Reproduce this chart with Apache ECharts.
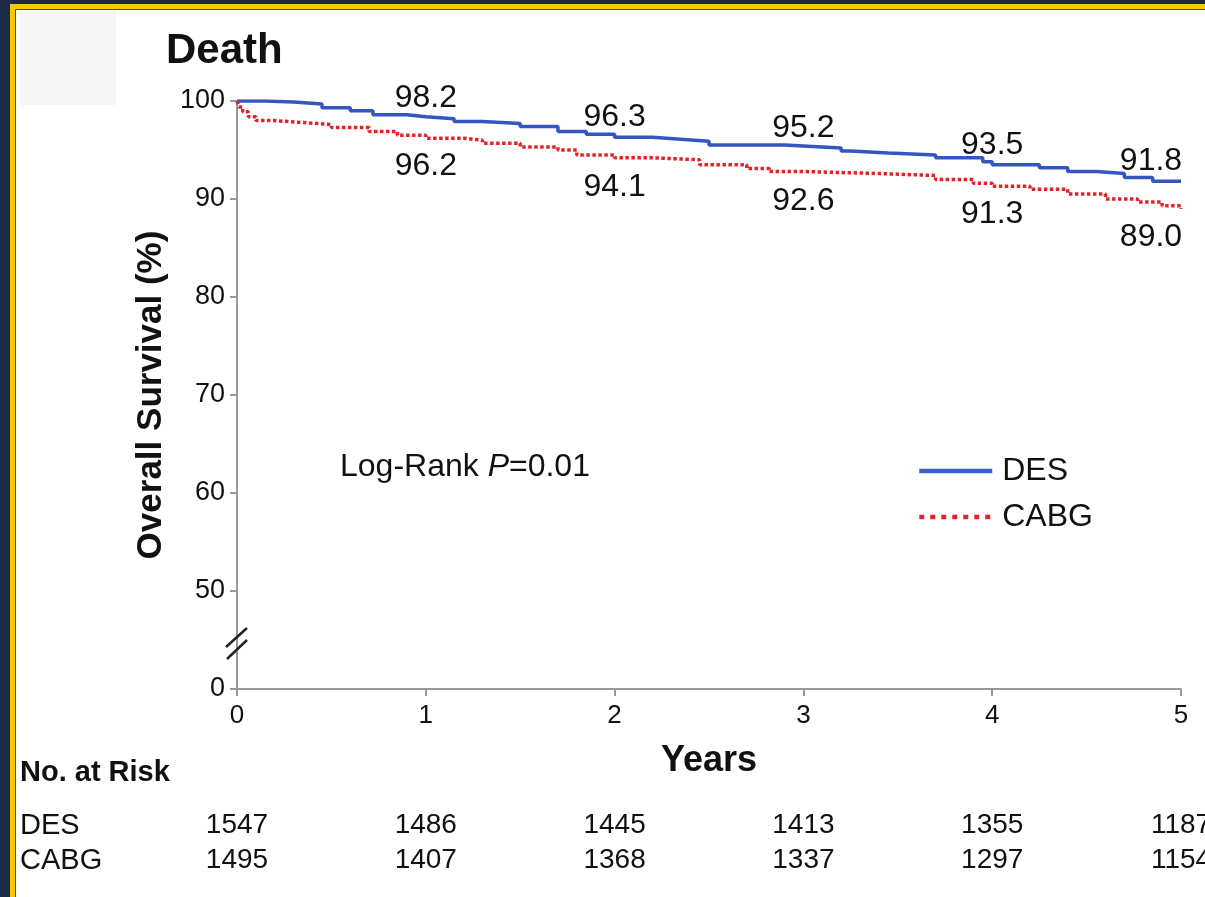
<!DOCTYPE html>
<html>
<head>
<meta charset="utf-8">
<script src="https://cdn.jsdelivr.net/npm/echarts@6/dist/echarts.min.js"></script>
<style>
html,body{margin:0;padding:0;background:#1b2a48;}
#chart{width:1205px;height:897px;}
</style>
</head>
<body>
<div id="chart"></div>
<script>
// ---- data ----
const desYears = [0, 0.15, 0.3, 0.45, 0.6, 0.72, 0.9, 1.0, 1.15, 1.3, 1.5, 1.7, 1.85, 2.0, 2.2, 2.35, 2.5, 2.9, 3.0, 3.2, 3.25, 3.45, 3.7, 3.95, 4.0, 4.25, 4.4, 4.55, 4.7, 4.85, 5.0];
const desSurv  = [100, 99.9, 99.7, 99.3, 99.0, 98.6, 98.4, 98.2, 97.9, 97.7, 97.4, 96.9, 96.6, 96.3, 96.1, 95.9, 95.5, 95.4, 95.2, 94.9, 94.7, 94.5, 94.2, 93.8, 93.5, 93.2, 92.8, 92.6, 92.2, 91.8, 91.8];
const cabgYears = [0, 0.01, 0.03, 0.06, 0.1, 0.2, 0.35, 0.5, 0.7, 0.85, 1.0, 1.2, 1.3, 1.5, 1.7, 1.8, 2.0, 2.2, 2.45, 2.7, 2.82, 3.0, 3.4, 3.7, 3.9, 4.0, 4.2, 4.4, 4.6, 4.77, 4.9, 5.0];
const cabgSurv  = [100, 99.4, 98.9, 98.4, 98.0, 97.8, 97.6, 97.3, 96.9, 96.5, 96.2, 96.0, 95.7, 95.3, 95.0, 94.5, 94.2, 94.0, 93.5, 93.1, 92.8, 92.6, 92.4, 92.0, 91.6, 91.3, 91.0, 90.5, 90.0, 89.7, 89.3, 89.0];
const labelYears = [1, 2, 3, 4, 5];
const desLabels  = [98.2, 96.3, 95.2, 93.5, 91.8];
const cabgLabels = [96.2, 94.1, 92.6, 91.3, 89.0];
const riskYears = [0, 1, 2, 3, 4, 5];
const desRisk  = [1547, 1486, 1445, 1413, 1355, 1187];
const cabgRisk = [1495, 1407, 1368, 1337, 1297, 1154];
const yTicks = [40, 50, 60, 70, 80, 90, 100];
const yTickLabels = ['0', '50', '60', '70', '80', '90', '100'];

const FONT = "'Liberation Sans', Arial, Helvetica, sans-serif";
const BLUE = '#3556c0';
const RED = '#e3242b';
const AXIS = '#9a9a9a';
const TXT = '#111111';

const chart = echarts.init(document.getElementById('chart'), null, {renderer: 'canvas'});

function zip(xs, ys) { return xs.map((x, i) => [x, ys[i]]); }

function labelData(vals, dy, lastDx) {
  return labelYears.map((yr, i) => ({
    value: [yr, vals[i]],
    label: {offset: [i === labelYears.length - 1 ? lastDx : 0, dy]}
  }));
}

function riskAxis(arr, offset) {
  return {
    type: 'value', gridIndex: 0, position: 'bottom', offset: offset,
    min: 0, max: 5, interval: 1,
    axisLine: {show: false}, axisTick: {show: false}, splitLine: {show: false},
    axisLabel: {
      show: true, margin: 0, fontFamily: FONT, fontSize: 28, color: TXT,
      showMinLabel: true, showMaxLabel: true,
      formatter: v => { const i = riskYears.indexOf(v); return i >= 0 ? String(arr[i]) : ''; }
    }
  };
}

const labelStyle = {show: true, position: 'inside', fontFamily: FONT, fontSize: 32, color: TXT,
                    textBorderWidth: 0, formatter: p => p.value[1].toFixed(1)};

const option = {
  animation: false,
  backgroundColor: 'transparent',
  grid: {left: 237, right: 24, top: 101, bottom: 208, containLabel: false, outerBoundsMode: 'none'},
  xAxis: [
    {
      type: 'value', min: 0, max: 5, interval: 1,
      name: 'Years', nameLocation: 'middle', nameGap: 54,
      nameTextStyle: {fontFamily: FONT, fontSize: 36, fontWeight: 'bold', color: TXT},
      axisLine: {show: true, lineStyle: {color: AXIS, width: 2}},
      axisTick: {show: true, length: 7, lineStyle: {color: AXIS, width: 2}},
      axisLabel: {margin: 14, fontFamily: FONT, fontSize: 26, color: TXT},
      splitLine: {show: false}
    },
    riskAxis(desRisk, 122),
    riskAxis(cabgRisk, 157)
  ],
  yAxis: {
    type: 'value', min: 40, max: 100, interval: 10,
    name: 'Overall Survival (%)', nameLocation: 'middle', nameGap: 61, nameRotate: 90,
    nameTextStyle: {fontFamily: FONT, fontSize: 35, fontWeight: 'bold', color: TXT},
    axisLine: {show: true, lineStyle: {color: AXIS, width: 2}},
    axisTick: {show: true, length: 7, lineStyle: {color: AXIS, width: 2}},
    axisLabel: {
      margin: 12, fontFamily: FONT, fontSize: 27, color: TXT,
      formatter: v => { const i = yTicks.indexOf(v); return i >= 0 ? yTickLabels[i] : ''; }
    },
    splitLine: {show: false}
  },
  legend: {
    orient: 'vertical', left: 912, top: 450,
    itemWidth: 73, itemHeight: 20, itemGap: 14,
    itemStyle: {opacity: 0},
    textStyle: {fontFamily: FONT, fontSize: 32, color: TXT, lineHeight: 32, padding: [0, 0, 0, 5]},
    data: [
      {name: 'DES', lineStyle: {width: 4.5, color: '#3a5fd0', type: 'solid'}},
      {name: 'CABG', lineStyle: {width: 4.5, color: RED, type: [5, 6]}}
    ]
  },
  series: [
    {
      name: 'DES', type: 'line', step: 'end', symbol: 'none',
      data: zip(desYears, desSurv),
      lineStyle: {color: BLUE, width: 3.5},
      itemStyle: {color: BLUE}, z: 3
    },
    {
      name: 'CABG', type: 'line', step: 'end', symbol: 'none',
      data: zip(cabgYears, cabgSurv),
      lineStyle: {color: RED, width: 3.5, type: [3.5, 2.5]},
      itemStyle: {color: RED}, z: 2
    },
    {
      name: 'desLbl', type: 'scatter', symbolSize: 0, silent: true,
      itemStyle: {opacity: 1},
      data: labelData(desLabels, -20, -30),
      label: labelStyle
    },
    {
      name: 'cabgLbl', type: 'scatter', symbolSize: 0, silent: true,
      itemStyle: {opacity: 1},
      data: labelData(cabgLabels, 28, -30),
      label: labelStyle
    }
  ]
};

chart.setOption(option);

// decorations (frame, title, notes, axis break mark)
const origin = chart.convertToPixel({xAxisIndex: 0, yAxisIndex: 0}, [0, 45]);
const bx = origin[0], by = origin[1];
chart.setOption({
  graphic: [
    {type: 'rect', z: -10, silent: true, shape: {x: 0, y: 0, width: 1205, height: 897}, style: {fill: '#1b2a48'}},
    {type: 'rect', z: -9, silent: true, shape: {x: 10, y: 4, width: 1195, height: 893}, style: {fill: '#f7c900'}},
    {type: 'rect', z: -8, silent: true, shape: {x: 15, y: 9, width: 1190, height: 888}, style: {fill: '#5a4a10'}},
    {type: 'rect', z: -7, silent: true, shape: {x: 16, y: 10, width: 1189, height: 887}, style: {fill: '#ffffff'}},
    {type: 'rect', z: -6, silent: true, shape: {x: 20, y: 10, width: 96, height: 95}, style: {fill: '#f6f6f6'}},
    {type: 'text', left: 166, top: 30, silent: true,
     style: {text: 'Death', font: "bold 42px " + FONT, fill: TXT}},
    {type: 'text', left: 340, top: 451, silent: true,
     style: {
       text: '{n|Log-Rank }{i|P}{n|=0.01}',
       rich: {
         n: {font: "32px " + FONT, fill: TXT},
         i: {font: "italic 32px " + FONT, fill: TXT}
       }
     }},
    {type: 'text', left: 20, top: 758, silent: true,
     style: {text: 'No. at Risk', font: "bold 29px " + FONT, fill: TXT}},
    {type: 'text', left: 20, top: 811, silent: true,
     style: {text: 'DES', font: "29px " + FONT, fill: TXT}},
    {type: 'text', left: 20, top: 846, silent: true,
     style: {text: 'CABG', font: "29px " + FONT, fill: TXT}},
    {type: 'line', silent: true, z: 10,
     shape: {x1: bx - 11, y1: by + 7, x2: bx + 10, y2: by - 12},
     style: {stroke: '#222', lineWidth: 2.5}},
    {type: 'line', silent: true, z: 10,
     shape: {x1: bx - 10, y1: by + 19, x2: bx + 10, y2: by},
     style: {stroke: '#222', lineWidth: 2.5}}
  ]
});
</script>
</body>
</html>
